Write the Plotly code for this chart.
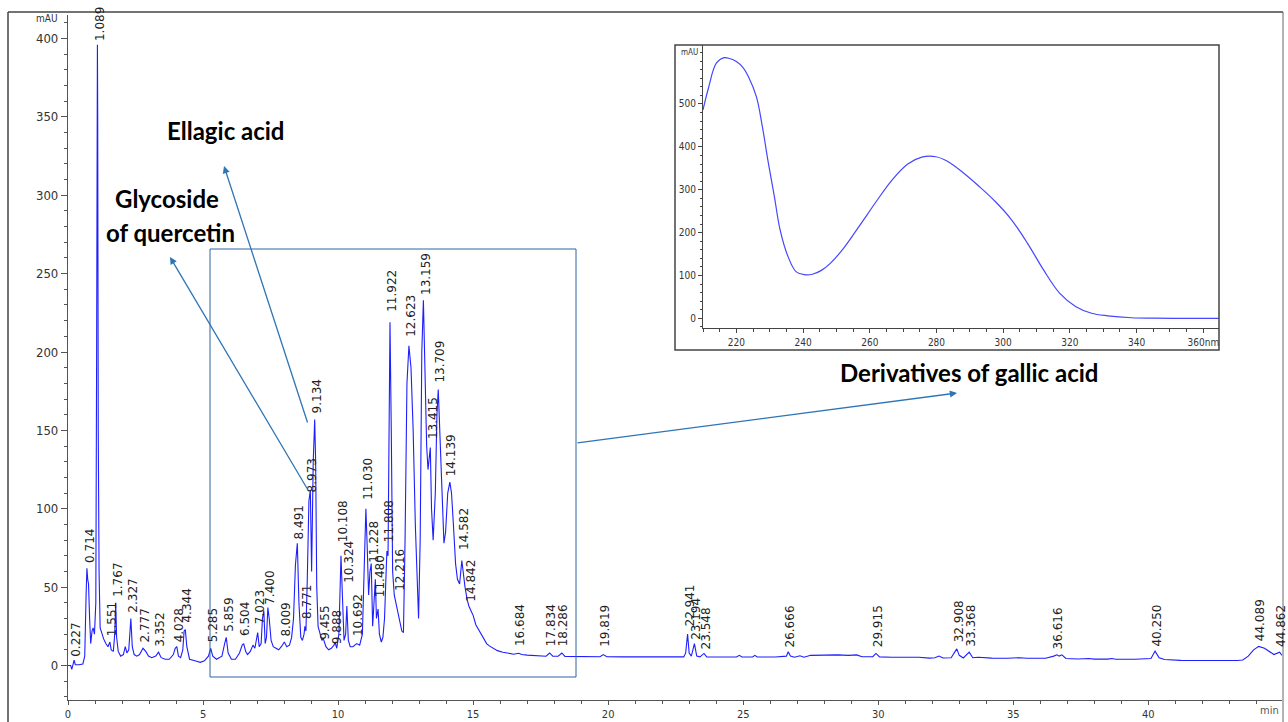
import plotly.graph_objects as go

# ---------------- data ----------------
time_min = [0.00, 0.10, 0.14, 0.18, 0.227, 0.27, 0.40, 0.55, 0.62, 0.67, 0.70, 0.73, 0.76, 0.80, 0.84,
            0.89, 0.93, 0.98, 1.03, 1.06, 1.089, 1.10, 1.12, 1.15, 1.19, 1.25, 1.32, 1.40, 1.48, 1.551,
            1.60, 1.68, 1.73, 1.767, 1.80, 1.86, 1.95, 2.05, 2.12, 2.18, 2.25, 2.327, 2.38, 2.45, 2.55,
            2.65, 2.777, 2.88, 2.98, 3.10, 3.25, 3.352, 3.45, 3.60, 3.75, 3.90, 3.97, 4.028, 4.09, 4.17,
            4.25, 4.30, 4.344, 4.40, 4.50, 4.70, 4.90, 5.05, 5.20, 5.285, 5.36, 5.50, 5.70, 5.80, 5.859,
            5.93, 6.05, 6.20, 6.35, 6.45, 6.504, 6.58, 6.65, 6.75, 6.85, 6.92, 6.98, 7.023, 7.08, 7.15,
            7.20, 7.25, 7.30, 7.35, 7.40, 7.45, 7.52, 7.60, 7.70, 7.80, 7.90, 8.009, 8.10, 8.20, 8.28,
            8.35, 8.42, 8.491, 8.55, 8.62, 8.68, 8.74, 8.771, 8.81, 8.86, 8.92, 8.973, 9.02, 9.08, 9.134,
            9.17, 9.21, 9.26, 9.33, 9.40, 9.455, 9.55, 9.65, 9.75, 9.85, 9.888, 9.95, 10.03, 10.108, 10.16,
            10.22, 10.28, 10.324, 10.38, 10.45, 10.55, 10.692, 10.80, 10.90, 10.98, 11.030, 11.08, 11.13, 11.18, 11.228,
            11.28, 11.33, 11.38, 11.42, 11.480, 11.53, 11.60, 11.66, 11.72, 11.78, 11.808, 11.85, 11.922, 11.97, 12.02,
            12.08, 12.14, 12.216, 12.28, 12.36, 12.42, 12.48, 12.55, 12.623, 12.70, 12.78, 12.86, 12.93, 12.98, 13.04,
            13.10, 13.159, 13.22, 13.28, 13.33, 13.38, 13.415, 13.46, 13.52, 13.60, 13.66, 13.709, 13.76, 13.84, 13.92,
            13.98, 14.06, 14.139, 14.20, 14.27, 14.35, 14.42, 14.50, 14.582, 14.64, 14.70, 14.78, 14.842, 14.92, 15.00,
            15.10, 15.20, 15.30, 15.40, 15.50, 15.60, 15.75, 15.90, 16.10, 16.30, 16.50, 16.684, 16.80, 17.00, 17.20,
            17.50, 17.70, 17.834, 17.95, 18.15, 18.286, 18.40, 18.80, 19.30, 19.70, 19.819, 19.95, 20.50, 21.50, 22.50,
            22.80, 22.87, 22.941, 23.00, 23.08, 23.194, 23.28, 23.40, 23.548, 23.65, 24.20, 24.75, 24.86, 24.95, 25.35,
            25.43, 25.52, 26.20, 26.60, 26.666, 26.75, 26.90, 27.10, 27.25, 27.50, 28.00, 28.50, 28.90, 29.20, 29.40,
            29.80, 29.915, 30.05, 30.50, 31.00, 31.50, 31.90, 32.10, 32.25, 32.40, 32.70, 32.908, 33.00, 33.15, 33.368,
            33.50, 33.70, 34.20, 34.80, 35.25, 35.50, 36.20, 36.50, 36.616, 36.70, 36.80, 36.95, 37.40, 37.80, 38.00,
            38.50, 38.65, 38.80, 39.50, 40.10, 40.250, 40.40, 40.60, 41.20, 41.80, 42.20, 42.60, 42.90, 43.30, 43.50,
            43.70, 43.90, 44.089, 44.30, 44.50, 44.65, 44.862, 44.95]
absorbance = [0, 0, -2.5, 1, 3.5, 0.5, 0.5, 1, 6, 45, 62, 55, 52, 30, 14,
              22, 24, 20, 40, 200, 396, 352, 150, 60, 24, 20, 17, 14, 12, 15,
              10, 9, 20, 40, 18, 9, 6, 7, 12, 8, 10, 30, 12, 7, 6,
              7, 11, 9, 6, 5, 6, 8.5, 5, 4, 4, 7, 11, 12, 6, 5,
              10, 22, 23, 12, 4, 3, 2, 3, 6, 11, 6, 4, 6, 14, 18,
              8, 4, 4, 8, 13, 14, 9, 7, 9, 13, 11, 16, 21, 12, 14,
              30, 35, 14, 18, 37, 30, 16, 12, 11, 10, 12, 15, 12, 13, 18,
              30, 64, 78, 40, 18, 16, 20, 25, 22, 55, 105, 112, 60, 130, 157,
              130, 50, 25, 20, 16, 17, 12, 10, 11, 13, 15, 11, 20, 70, 40,
              16, 20, 38, 16, 12, 12, 14, 13, 20, 70, 100, 75, 45, 60, 65,
              25, 40, 55, 30, 36, 20, 15, 18, 30, 60, 73, 70, 219, 150, 60,
              45, 40, 35, 30, 22, 21, 80, 180, 204, 190, 150, 90, 50, 30, 80,
              200, 233, 190, 140, 125, 132, 139, 100, 80, 110, 160, 176, 150, 110, 78,
              85, 110, 117, 110, 90, 65, 55, 52, 67, 58, 50, 42, 38, 35, 32,
              26, 23, 20, 17, 14, 12.5, 11, 9.5, 8.5, 7.7, 7.2, 7.8, 7, 6.6, 6.3,
              6, 5.9, 8, 6, 5.9, 8, 5.8, 5.7, 5.6, 5.6, 7, 5.6, 5.5, 5.4, 5.4,
              5.5, 8, 20, 8, 6, 14, 6, 5.5, 7.7, 5.5, 5.4, 5.4, 6.5, 5.4, 5.4,
              6.5, 5.4, 5.4, 6.0, 8.8, 6, 5.3, 6.2, 5.3, 6.5, 6.7, 6.8, 6.5, 6.8, 5.6,
              5.6, 7.7, 5.5, 5.3, 5.3, 5.3, 4.7, 4.9, 6, 4.8, 5, 10.6, 6.5, 4.8, 8.5,
              5, 5.3, 4.7, 4.6, 5, 4.6, 4.6, 6, 6.8, 6, 6.8, 4.5, 4.2, 4.5, 4.1,
              4.1, 4.5, 4.0, 4.0, 4.5, 9.2, 5, 3.8, 3.3, 3.2, 3.4, 3.5, 3.2, 3.2, 3.5,
              6, 10, 12.2, 11, 8.5, 7, 8.5, 6.5]

peak_rt = [0.227, 0.714, 1.089, 1.551, 1.767, 2.327, 2.777, 3.352, 4.028, 4.344, 5.285, 5.859, 6.504,
           7.023, 7.400, 8.009, 8.491, 8.771, 8.973, 9.134, 9.455, 9.888, 10.108, 10.324, 10.692,
           11.030, 11.228, 11.480, 11.808, 11.922, 12.216, 12.623, 13.159, 13.415, 13.709, 14.139,
           14.582, 14.842, 16.684, 17.834, 18.286, 19.819, 22.941, 23.194, 23.548, 26.666, 29.915,
           32.908, 33.368, 36.616, 40.250, 44.089, 44.862]
peak_label_base = [5, 65, 398, 18, 43, 33, 14, 11, 14, 27, 14, 21, 18,
                   25.5, 38, 18, 80, 29, 110, 160, 16, 13, 78, 52, 18,
                   105, 65, 43, 78, 225, 47, 209, 236, 144, 180, 120,
                   73, 40, 11.5, 11.5, 11.5, 11.5, 24, 16, 9.6, 11, 11,
                   14, 11.5, 9.6, 11.5, 14.7, 11]

wavelength_nm = [210, 211.6, 214, 216.4, 218, 220, 222, 223.6, 226, 227.8, 229.6, 231.4, 233.1, 235.5,
                 237.9, 240.4, 242.8, 245.5, 248, 252.3, 257.1, 261.9, 266.6, 271.4, 275.6, 279.8,
                 283.4, 288.1, 292.9, 297.7, 302.5, 307.3, 312.1, 316.9, 321.7, 326.5, 331.3, 338.5,
                 345, 355, 364.7]
spectrum_mAU = [486, 536, 595, 608, 606, 599, 585, 564, 517, 447, 362, 284, 207, 144,
                109, 102, 103, 112, 127, 165, 218, 272, 322, 360, 376, 377,
                366, 339, 307, 272, 230, 175, 113, 59, 28, 12, 6, 1.5,
                0.5, 0, 0]

inset_x_ticks = [220, 240, 260, 280, 300, 320, 340, 360]
inset_x_ticktext = ["220", "240", "260", "280", "300", "320", "340", "360nm"]
inset_y_ticks = [0, 100, 200, 300, 400, 500]

# ---------------- figure ----------------
NARROW = "Liberation Sans Narrow, DejaVu Sans Condensed, Arial Narrow, sans-serif"
TRACE = "rgb(30,30,255)"
ARROW = "#2E75B6"

fig = go.Figure()
fig.add_trace(go.Scatter(x=time_min, y=absorbance, mode="lines",
                         line=dict(color=TRACE, width=1.1), xaxis="x", yaxis="y",
                         hoverinfo="x+y", showlegend=False))
fig.add_trace(go.Scatter(x=wavelength_nm, y=spectrum_mAU, mode="lines", line_shape="spline",
                         line=dict(color="rgb(70,70,255)", width=1.2), xaxis="x2", yaxis="y2",
                         showlegend=False))

W, H = 1288, 722
ML, MR, MT, MB = 68, 6, 15, 22
pw = W - ML - MR
ph = H - MT - MB


def px_x(px):
    return (px - ML) / pw


def px_y(py):
    return (H - MB - py) / ph


annotations = []
for rt, base in zip(peak_rt, peak_label_base):
    annotations.append(dict(x=rt, y=base, xref="x", yref="y", text=f"{rt:.3f}",
                            showarrow=False, textangle=-90, xanchor="center", yanchor="bottom",
                            xshift=2, borderpad=0,
                            font=dict(family="DejaVu Sans", size=12, color="#222")))

bold_font = dict(family="Lato, Carlito, Liberation Sans", size=24, color="black")


def label(px, py, text, font, **kw):
    return dict(x=px_x(px), y=px_y(py), xref="paper", yref="paper", text=text,
                showarrow=False, xanchor="center", yanchor="middle", font=font, **kw)


annotations += [
    label(226, 131, "<b>Ellagic acid</b>", bold_font),
    label(167, 198, "<b>Glycoside</b>", bold_font),
    label(170, 232, "<b>of quercetin</b>", bold_font),
    label(969, 372, "<b>Derivatives of gallic acid</b>", bold_font),
]

# arrows, positioned in fractions of the main axes' domain (which spans the whole plot area)
for (tx, ty, hx, hy) in [(576, 443, 957, 393), (308, 424, 224, 166), (308, 490, 170, 257)]:
    annotations.append(dict(x=px_x(hx), y=px_y(hy), xref="x domain", yref="y domain",
                            ax=px_x(tx), ay=px_y(ty), axref="x domain", ayref="y domain",
                            text="", showarrow=True, arrowhead=2, arrowsize=1.1,
                            arrowwidth=1.3, arrowcolor=ARROW, standoff=0))

annotations += [
    label(47, 19, "mAU", dict(family=NARROW, size=10, color="#333")),
    label(1269, 711, "min", dict(family=NARROW, size=11, color="#555")),
    label(689, 52, "mAU", dict(family=NARROW, size=8, color="#333")),
]

shapes = [
    # outer frame of the picture
    dict(type="line", xref="paper", yref="paper", x0=px_x(8), x1=px_x(8), y0=px_y(12), y1=px_y(740),
         line=dict(color="#444", width=1.5), layer="above"),
    dict(type="line", xref="paper", yref="paper", x0=px_x(8), x1=px_x(1283), y0=px_y(12), y1=px_y(12),
         line=dict(color="#444", width=1.5), layer="above"),
    dict(type="line", xref="paper", yref="paper", x0=px_x(1283), x1=px_x(1283), y0=px_y(12), y1=px_y(740),
         line=dict(color="#666", width=1), layer="above"),
    # highlighted region box
    dict(type="rect", xref="paper", yref="paper", x0=px_x(210), x1=px_x(576), y0=px_y(677), y1=px_y(249),
         line=dict(color="rgb(45,100,160)", width=1), fillcolor="rgba(0,0,0,0)", layer="above"),
    # inset frame
    dict(type="rect", xref="paper", yref="paper", x0=px_x(675), x1=px_x(1219), y0=px_y(350), y1=px_y(45),
         line=dict(color="#444", width=1.5), fillcolor="rgba(0,0,0,0)", layer="above"),
]

fig.update_layout(
    width=W, height=H,
    margin=dict(l=ML, r=MR, t=MT, b=MB, pad=0, autoexpand=False),
    paper_bgcolor="white", plot_bgcolor="white",
    showlegend=False,
    xaxis=dict(domain=[0, 1], range=[0, 44.95], tick0=0, dtick=5, showgrid=False, zeroline=False,
               showline=True, linecolor="#555", linewidth=1.2, ticks="outside", ticklen=4,
               tickcolor="#555", tickfont=dict(family=NARROW, size=11, color="#333"),
               automargin=False,
               minor=dict(dtick=1, ticks="outside", ticklen=3, tickcolor="#555"), anchor="y"),
    yaxis=dict(domain=[0, 1], range=[-22, 415], tick0=0, dtick=50, showgrid=False, zeroline=False,
               showline=True, linecolor="#555", linewidth=1.2, ticks="outside", ticklen=6,
               tickcolor="#555", tickfont=dict(family=NARROW, size=13, color="#333"), automargin=False,
               minor=dict(dtick=10, ticks="outside", ticklen=3, tickcolor="#555"), anchor="x"),
    xaxis2=dict(domain=[px_x(703), px_x(1219)], range=[210, 364.7], tickvals=inset_x_ticks,
                ticktext=inset_x_ticktext, showgrid=False, zeroline=False, showline=True,
                linecolor="#444", linewidth=1, ticks="outside", ticklen=4, tickcolor="#444",
                tickfont=dict(family=NARROW, size=10, color="#333"), ticklabelstandoff=1,
                automargin=False,
                minor=dict(dtick=5, ticks="outside", ticklen=3, tickcolor="#444"), anchor="y2"),
    yaxis2=dict(domain=[px_y(328), px_y(45)], range=[-22.4, 637.5], tickvals=inset_y_ticks,
                showgrid=False, zeroline=False, showline=True, linecolor="#444", linewidth=1,
                ticks="outside", ticklen=4, tickcolor="#444", automargin=False,
                tickfont=dict(family=NARROW, size=10, color="#333"),
                minor=dict(tick0=0, dtick=20, ticks="outside", ticklen=2, tickcolor="#444"), anchor="x2"),
    annotations=annotations,
    shapes=shapes,
)

fig.write_html("out.html")
